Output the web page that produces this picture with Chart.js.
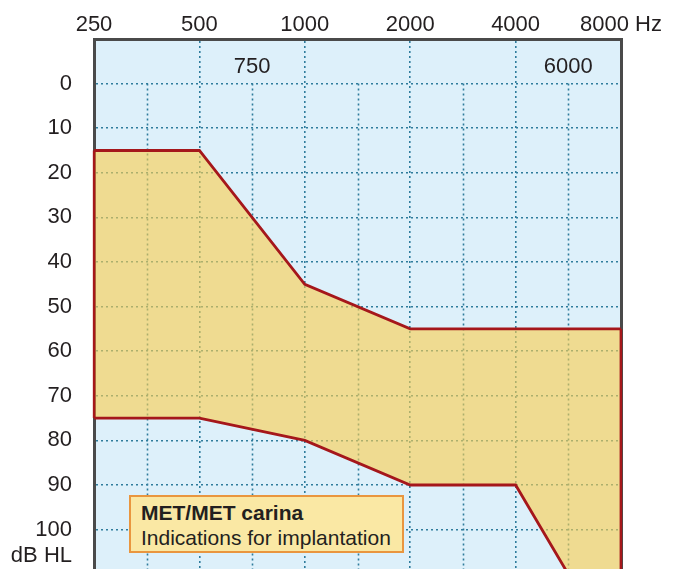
<!DOCTYPE html>
<html>
<head>
<meta charset="utf-8">
<script src="https://cdn.jsdelivr.net/npm/chart.js@4"></script>
<style>
  body { margin: 0; overflow: hidden; background: #fff; }
  #wrap { position: relative; width: 674px; height: 569px; }
  #note {
    position: absolute; left: 129px; top: 495px; width: 261px; height: 54px;
    background: #fae8a4; border: 2px solid #e9963f;
    font-family: "Liberation Sans", Arial, sans-serif; font-size: 21px; color: #231f20;
    padding: 0 0 0 10px; box-sizing: content-box; line-height: 25px;
  }
  #note b { display: block; margin-top: 3px; }
</style>
</head>
<body>
<div id="wrap">
  <canvas id="audio" width="674" height="654"></canvas>
  <div id="note"><b>MET/MET carina</b>Indications for implantation</div>
</div>
<script>
// octave frequencies along the top
const freqs = ['250', '500', '1000', '2000', '4000', '8000'];
const freqUnit = 'Hz';
// half-octave frequencies labelled inside the plot
const midFreqs = ['750', '6000'];
const midPos = [1.5, 4.5];
const halfSteps = [0.5, 1.5, 2.5, 3.5, 4.5];

// hearing level ticks
const dbTicks = [0, 10, 20, 30, 40, 50, 60, 70, 80, 90, 100];
const dbUnit = 'dB HL';
const dbUnitPos = 106;

// indication range (dB HL at each octave)
const upperDb = [15, 15, 45, 55, 55, 55];
const lowerDb = [75, 75, 80, 90, 90, 130];

const gridColor = '#2f7c9c';
const lineRed = '#a5171b';
const frame = '#4a4a4a';

Chart.defaults.font.family = '"Liberation Sans", Arial, sans-serif';
Chart.defaults.font.size = 22;
Chart.defaults.color = '#231f20';

const last = freqs.length - 1;

const plotBg = {
  id: 'plotBg',
  beforeDraw(chart) {
    const { ctx, chartArea: a } = chart;
    ctx.save();
    ctx.fillStyle = '#ddf0fa';
    ctx.fillRect(a.left, a.top, a.right - a.left, a.bottom - a.top);
    ctx.restore();
  }
};

const midGrid = {
  id: 'midGrid',
  beforeDatasetsDraw(chart) {
    const { ctx, chartArea, scales: { x, y } } = chart;
    ctx.save();
    ctx.strokeStyle = gridColor;
    ctx.lineWidth = 1.6;
    ctx.setLineDash([2, 3]);
    halfSteps.forEach(v => {
      const px = Math.round(x.getPixelForValue(v)) + 0.5;
      ctx.beginPath();
      ctx.moveTo(px, y.getPixelForValue(0));
      ctx.lineTo(px, chartArea.bottom);
      ctx.stroke();
    });
    ctx.setLineDash([]);
    ctx.fillStyle = '#231f20';
    ctx.font = '22px "Liberation Sans", Arial, sans-serif';
    ctx.textAlign = 'center';
    ctx.textBaseline = 'middle';
    midFreqs.forEach((f, i) => {
      ctx.fillText(f, x.getPixelForValue(midPos[i]), y.getPixelForValue(-3.8));
    });
    ctx.restore();
  }
};

const redLine = {
  borderColor: lineRed,
  borderWidth: 2.8,
  pointRadius: 0,
  tension: 0,
  order: 0
};

new Chart(document.getElementById('audio'), {
  type: 'line',
  data: {
    labels: freqs,
    datasets: [
      // filled band drawn first (highest order), the other lines go on top
      { ...redLine, data: upperDb, fill: '+1', backgroundColor: 'rgba(250,207,80,0.62)', order: 1 },
      { ...redLine, data: lowerDb, fill: false },
      { ...redLine, data: [{ x: freqs[0], y: upperDb[0] }, { x: freqs[0], y: lowerDb[0] }], fill: false },
      { ...redLine, data: [{ x: freqs[last], y: upperDb[last] }, { x: freqs[last], y: lowerDb[last] }], fill: false }
    ]
  },
  options: {
    responsive: false,
    animation: false,
    layout: { padding: { left: 0, right: 53, top: 0, bottom: 12 } },
    plugins: { legend: { display: false }, tooltip: { enabled: false } },
    scales: {
      x: {
        type: 'category',
        position: 'top',
        afterFit: s => { s.height = 39; },
        grid: { color: gridColor, lineWidth: 1.6, drawTicks: false },
        border: { display: true, color: frame, width: 3, dash: [2, 3] },
        ticks: {
          padding: 1,
          maxRotation: 0,
          autoSkip: false,
          callback: (v, i) => i === last ? freqs[i] + ' ' + freqUnit : freqs[i]
        }
      },
      y: {
        type: 'linear',
        position: 'left',
        reverse: true,
        min: -10,
        max: 120,
        afterFit: s => { s.width = 94; },
        afterBuildTicks: s => {
          s.ticks = dbTicks.map(v => ({ value: v })).concat([{ value: dbUnitPos }]);
        },
        grid: {
          color: c => c.tick && c.tick.value === dbUnitPos ? 'rgba(0,0,0,0)' : gridColor,
          lineWidth: 1.6,
          drawTicks: false
        },
        border: { display: true, color: frame, width: 3, dash: [2, 3] },
        ticks: {
          padding: 22,
          autoSkip: false,
          callback: v => v === dbUnitPos ? dbUnit : v
        }
      },
      y2: {
        type: 'linear',
        position: 'right',
        reverse: true,
        min: -10,
        max: 120,
        afterFit: s => { s.width = 0; },
        grid: { display: false },
        border: { display: true, color: frame, width: 3 },
        ticks: { display: false }
      }
    }
  },
  plugins: [plotBg, midGrid]
});
</script>
</body>
</html>
